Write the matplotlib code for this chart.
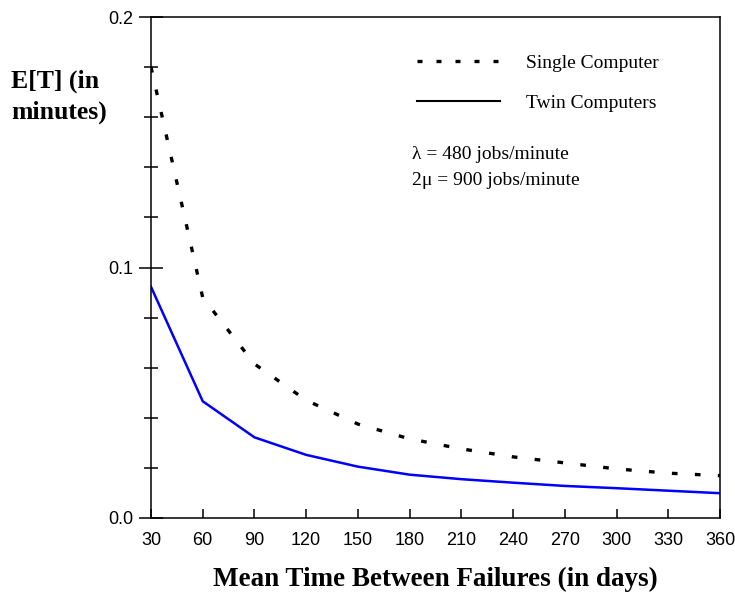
import matplotlib
matplotlib.use("Agg")
import matplotlib.pyplot as plt
from matplotlib.lines import Line2D
from matplotlib.ticker import MultipleLocator, FormatStrFormatter

# mean time between failures (days)
mtbf = [30, 60, 90, 120, 150, 180, 210, 240, 270, 300, 330, 360]
# E[T] in minutes
single = [0.180, 0.088, 0.0615, 0.047, 0.0375, 0.0316, 0.0276, 0.0244, 0.0220, 0.0196, 0.0179, 0.0169]
twin = [0.0923, 0.0466, 0.0322, 0.0252, 0.0205, 0.0173, 0.0155, 0.0141, 0.0128, 0.0119, 0.0109, 0.0099]

x_ticks = list(range(30, 361, 30))
y_ticks = [0.0, 0.1, 0.2]

serif = "Liberation Serif"
sans = "Liberation Sans"

fig = plt.figure(figsize=(7.35, 5.92), dpi=100)
ax = fig.add_axes([151 / 735, 74 / 592, 569 / 735, 501 / 592])

ax.plot(mtbf, single, color="black", lw=2.4, ls=(0, (1.7, 5.2)))
ax.plot(mtbf, twin, color="#0000ff", lw=1.8)

ax.set_xlim(30, 360)
ax.set_ylim(0, 0.2)
ax.set_xticks(x_ticks)
ax.set_yticks(y_ticks)
ax.yaxis.set_minor_locator(MultipleLocator(0.02))
ax.yaxis.set_major_formatter(FormatStrFormatter("%.1f"))

for sp in ax.spines.values():
    sp.set_linewidth(1.1)
    sp.set_color("black")

ax.tick_params(axis="x", which="major", direction="in", length=6.5, width=1.1, pad=10)
ax.tick_params(axis="y", which="major", direction="inout", length=17, width=1.1, pad=4)
ax.tick_params(axis="y", which="minor", direction="inout", length=10, width=1.1)
for lab in ax.get_xticklabels() + ax.get_yticklabels():
    lab.set_fontfamily(sans)
    lab.set_fontsize(13)

ax.set_xlabel("Mean Time Between Failures (in days)", fontfamily=serif,
              fontweight="bold", fontsize=19.5, labelpad=13)
fig.text(11 / 735, 1 - 97 / 592, "E[T] (in\nminutes)", fontfamily=serif,
         fontweight="bold", fontsize=18.5, ha="left", va="center", linespacing=1.4)

handles = [
    Line2D([], [], color="black", lw=2.4, ls=(0, (1.5, 4.2))),
    Line2D([], [], color="black", lw=1.5),
]
ax.legend(handles, ["Single Computer", "Twin Computers"], loc="upper left",
          bbox_to_anchor=(0.467, 0.926), frameon=False, borderpad=0, borderaxespad=0,
          handlelength=4.3, handletextpad=1.3, labelspacing=1.15,
          prop={"family": serif, "size": 14})

ax.text(0.458, 0.7246, "\u03bb = 480 jobs/minute", transform=ax.transAxes,
        fontfamily=serif, fontsize=14, ha="left", va="center")
ax.text(0.458, 0.6727, "2\u03bc = 900 jobs/minute", transform=ax.transAxes,
        fontfamily=serif, fontsize=14, ha="left", va="center")

fig.savefig("out.png", dpi=100)
